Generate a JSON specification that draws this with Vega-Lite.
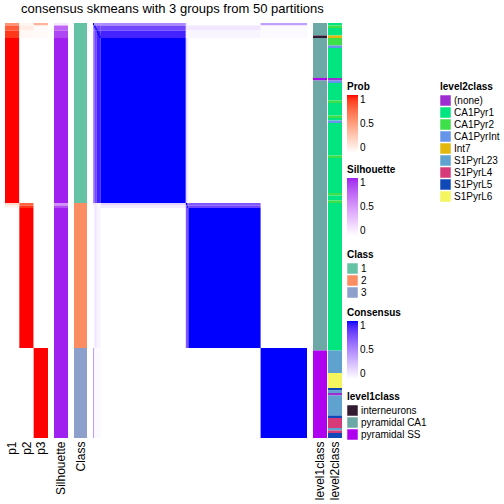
{
  "$schema": "https://vega.github.io/schema/vega-lite/v6.json",
  "padding": {"left": 5, "top": 3, "right": 0, "bottom": 0},
  "title": {"text": "consensus skmeans with 3 groups from 50 partitions", "fontSize": 13, "font": "Liberation Sans", "fontWeight": "normal", "anchor": "start", "dx": 16, "offset": 7, "color": "black"},
  "datasets": {
    "prob": [
      {"c": "p1", "y": 0, "y2": 1, "v": 0.55},
      {"c": "p1", "y": 1, "y2": 3, "v": 0.8},
      {"c": "p1", "y": 3, "y2": 6, "v": 0.92},
      {"c": "p1", "y": 6, "y2": 72, "v": 1},
      {"c": "p1", "y": 72, "y2": 73, "v": 0.2},
      {"c": "p1", "y": 73, "y2": 74, "v": 0.06},
      {"c": "p1", "y": 74, "y2": 166, "v": 0},
      {"c": "p2", "y": 0, "y2": 1, "v": 0.05},
      {"c": "p2", "y": 1, "y2": 3, "v": 0.1},
      {"c": "p2", "y": 3, "y2": 6, "v": 0.04},
      {"c": "p2", "y": 6, "y2": 72, "v": 0},
      {"c": "p2", "y": 72, "y2": 73, "v": 0.78},
      {"c": "p2", "y": 73, "y2": 74, "v": 0.93},
      {"c": "p2", "y": 74, "y2": 130, "v": 1},
      {"c": "p2", "y": 130, "y2": 166, "v": 0},
      {"c": "p3", "y": 0, "y2": 1, "v": 0.4},
      {"c": "p3", "y": 1, "y2": 3, "v": 0.03},
      {"c": "p3", "y": 3, "y2": 6, "v": 0.03},
      {"c": "p3", "y": 6, "y2": 130, "v": 0},
      {"c": "p3", "y": 130, "y2": 166, "v": 1}
    ],
    "sil": [
      {"c": "Silhouette", "y": 0, "y2": 1, "v": 0.12},
      {"c": "Silhouette", "y": 1, "y2": 3, "v": 0.75},
      {"c": "Silhouette", "y": 3, "y2": 6, "v": 0.88},
      {"c": "Silhouette", "y": 6, "y2": 72, "v": 1},
      {"c": "Silhouette", "y": 72, "y2": 73, "v": 0.55},
      {"c": "Silhouette", "y": 73, "y2": 74, "v": 0.85},
      {"c": "Silhouette", "y": 74, "y2": 166, "v": 1}
    ],
    "cls": [
      {"c": "Class", "y": 0, "y2": 72, "v": "1"},
      {"c": "Class", "y": 72, "y2": 130, "v": "2"},
      {"c": "Class", "y": 130, "y2": 166, "v": "3"}
    ],
    "mat": [
      {"x": 0, "x2": 1, "y": 0, "y2": 1, "v": 1},
      {"x": 1, "x2": 3, "y": 0, "y2": 1, "v": 0.5},
      {"x": 3, "x2": 6, "y": 0, "y2": 1, "v": 0.5},
      {"x": 6, "x2": 72, "y": 0, "y2": 1, "v": 0.5},
      {"x": 72, "x2": 73, "y": 0, "y2": 1, "v": 0.1},
      {"x": 73, "x2": 74, "y": 0, "y2": 1, "v": 0.05},
      {"x": 130, "x2": 166, "y": 0, "y2": 1, "v": 0.4},
      {"x": 0, "x2": 1, "y": 1, "y2": 3, "v": 0.5},
      {"x": 1, "x2": 3, "y": 1, "y2": 3, "v": 0.8},
      {"x": 1, "x2": 2, "y": 1, "y2": 2, "v": 1},
      {"x": 2, "x2": 3, "y": 2, "y2": 3, "v": 1},
      {"x": 3, "x2": 6, "y": 1, "y2": 3, "v": 0.8},
      {"x": 6, "x2": 72, "y": 1, "y2": 3, "v": 0.78},
      {"x": 72, "x2": 73, "y": 1, "y2": 3, "v": 0.12},
      {"x": 73, "x2": 74, "y": 1, "y2": 3, "v": 0.1},
      {"x": 74, "x2": 130, "y": 1, "y2": 3, "v": 0.1},
      {"x": 130, "x2": 166, "y": 1, "y2": 3, "v": 0.02},
      {"x": 0, "x2": 1, "y": 3, "y2": 6, "v": 0.5},
      {"x": 1, "x2": 3, "y": 3, "y2": 6, "v": 0.8},
      {"x": 3, "x2": 6, "y": 3, "y2": 6, "v": 0.92},
      {"x": 3, "x2": 4, "y": 3, "y2": 4, "v": 1},
      {"x": 4, "x2": 5, "y": 4, "y2": 5, "v": 1},
      {"x": 5, "x2": 6, "y": 5, "y2": 6, "v": 1},
      {"x": 6, "x2": 72, "y": 3, "y2": 6, "v": 0.92},
      {"x": 72, "x2": 73, "y": 3, "y2": 6, "v": 0.05},
      {"x": 73, "x2": 74, "y": 3, "y2": 6, "v": 0.04},
      {"x": 74, "x2": 130, "y": 3, "y2": 6, "v": 0.04},
      {"x": 130, "x2": 166, "y": 3, "y2": 6, "v": 0.02},
      {"x": 0, "x2": 1, "y": 6, "y2": 72, "v": 0.5},
      {"x": 1, "x2": 3, "y": 6, "y2": 72, "v": 0.78},
      {"x": 3, "x2": 6, "y": 6, "y2": 72, "v": 0.92},
      {"x": 6, "x2": 72, "y": 6, "y2": 72, "v": 1},
      {"x": 72, "x2": 73, "y": 6, "y2": 72, "v": 0.18},
      {"x": 73, "x2": 74, "y": 6, "y2": 72, "v": 0.08},
      {"x": 0, "x2": 1, "y": 72, "y2": 73, "v": 0.1},
      {"x": 1, "x2": 3, "y": 72, "y2": 73, "v": 0.12},
      {"x": 3, "x2": 6, "y": 72, "y2": 73, "v": 0.05},
      {"x": 6, "x2": 72, "y": 72, "y2": 73, "v": 0.18},
      {"x": 72, "x2": 73, "y": 72, "y2": 73, "v": 1},
      {"x": 73, "x2": 74, "y": 72, "y2": 73, "v": 0.75},
      {"x": 74, "x2": 130, "y": 72, "y2": 73, "v": 0.72},
      {"x": 0, "x2": 1, "y": 73, "y2": 74, "v": 0.05},
      {"x": 1, "x2": 3, "y": 73, "y2": 74, "v": 0.1},
      {"x": 3, "x2": 6, "y": 73, "y2": 74, "v": 0.04},
      {"x": 6, "x2": 72, "y": 73, "y2": 74, "v": 0.08},
      {"x": 72, "x2": 73, "y": 73, "y2": 74, "v": 0.75},
      {"x": 73, "x2": 74, "y": 73, "y2": 74, "v": 1},
      {"x": 74, "x2": 130, "y": 73, "y2": 74, "v": 0.8},
      {"x": 1, "x2": 3, "y": 74, "y2": 130, "v": 0.1},
      {"x": 3, "x2": 6, "y": 74, "y2": 130, "v": 0.04},
      {"x": 72, "x2": 73, "y": 74, "y2": 130, "v": 0.72},
      {"x": 73, "x2": 74, "y": 74, "y2": 130, "v": 0.8},
      {"x": 74, "x2": 130, "y": 74, "y2": 130, "v": 1},
      {"x": 0, "x2": 1, "y": 130, "y2": 166, "v": 0.4},
      {"x": 1, "x2": 3, "y": 130, "y2": 166, "v": 0.02},
      {"x": 3, "x2": 6, "y": 130, "y2": 166, "v": 0.02},
      {"x": 130, "x2": 166, "y": 130, "y2": 166, "v": 1}
    ],
    "l1": [
      {"c": "level1class", "y": 0, "y2": 5, "v": "pyramidal CA1"},
      {"c": "level1class", "y": 5, "y2": 6, "v": "interneurons"},
      {"c": "level1class", "y": 6, "y2": 22, "v": "pyramidal CA1"},
      {"c": "level1class", "y": 22, "y2": 23, "v": "pyramidal SS"},
      {"c": "level1class", "y": 23, "y2": 131, "v": "pyramidal CA1"},
      {"c": "level1class", "y": 131, "y2": 166, "v": "pyramidal SS"}
    ],
    "l2": [
      {"c": "level2class", "y": 0, "y2": 1, "v": "CA1Pyr1"},
      {"c": "level2class", "y": 1, "y2": 2, "v": "CA1Pyr2"},
      {"c": "level2class", "y": 2, "y2": 5, "v": "CA1Pyr1"},
      {"c": "level2class", "y": 5, "y2": 6, "v": "Int7"},
      {"c": "level2class", "y": 6, "y2": 9, "v": "CA1Pyr2"},
      {"c": "level2class", "y": 9, "y2": 10, "v": "CA1PyrInt"},
      {"c": "level2class", "y": 10, "y2": 22, "v": "CA1Pyr1"},
      {"c": "level2class", "y": 22, "y2": 23, "v": "(none)"},
      {"c": "level2class", "y": 23, "y2": 24, "v": "CA1PyrInt"},
      {"c": "level2class", "y": 24, "y2": 31, "v": "CA1Pyr1"},
      {"c": "level2class", "y": 31, "y2": 32, "v": "CA1Pyr2"},
      {"c": "level2class", "y": 32, "y2": 37, "v": "CA1Pyr1"},
      {"c": "level2class", "y": 37, "y2": 38, "v": "CA1Pyr2"},
      {"c": "level2class", "y": 38, "y2": 39, "v": "CA1Pyr1"},
      {"c": "level2class", "y": 39, "y2": 40, "v": "CA1PyrInt"},
      {"c": "level2class", "y": 40, "y2": 53, "v": "CA1Pyr1"},
      {"c": "level2class", "y": 53, "y2": 54, "v": "CA1Pyr2"},
      {"c": "level2class", "y": 54, "y2": 68, "v": "CA1Pyr1"},
      {"c": "level2class", "y": 68, "y2": 69, "v": "CA1Pyr2"},
      {"c": "level2class", "y": 69, "y2": 71, "v": "CA1Pyr1"},
      {"c": "level2class", "y": 71, "y2": 72, "v": "CA1Pyr2"},
      {"c": "level2class", "y": 72, "y2": 131, "v": "CA1Pyr1"},
      {"c": "level2class", "y": 131, "y2": 140, "v": "S1PyrL23"},
      {"c": "level2class", "y": 140, "y2": 146, "v": "S1PyrL6"},
      {"c": "level2class", "y": 146, "y2": 147, "v": "S1PyrL5"},
      {"c": "level2class", "y": 147, "y2": 148, "v": "S1PyrL23"},
      {"c": "level2class", "y": 148, "y2": 149, "v": "(none)"},
      {"c": "level2class", "y": 149, "y2": 157, "v": "S1PyrL23"},
      {"c": "level2class", "y": 157, "y2": 158, "v": "S1PyrL5"},
      {"c": "level2class", "y": 158, "y2": 162, "v": "S1PyrL4"},
      {"c": "level2class", "y": 162, "y2": 163, "v": "S1PyrL23"},
      {"c": "level2class", "y": 163, "y2": 164, "v": "S1PyrL4"},
      {"c": "level2class", "y": 164, "y2": 166, "v": "S1PyrL5"}
    ]
  },
  "spacing": 6,
  "bounds": "flush",
  "resolve": {"scale": {"fill": "independent", "x": "independent", "y": "independent"}, "legend": {"fill": "independent"}},
  "hconcat": [
    {
      "width": 43, "height": 415,
      "data": {"name": "prob"},
      "mark": {"type": "rect"},
      "encoding": {
        "x": {"field": "c", "type": "nominal", "sort": ["p1", "p2", "p3"], "scale": {"paddingInner": 0, "paddingOuter": 0}, "axis": {"title": null}},
        "y": {"field": "y", "type": "quantitative", "scale": {"domain": [0, 166], "reverse": true, "nice": false, "zero": false}, "axis": null},
        "y2": {"field": "y2"},
        "fill": {"field": "v", "type": "quantitative", "scale": {"domain": [0, 1], "range": ["#FFFFFF", "#FF0000"], "interpolate": "lab"}, "legend": {"title": "Prob", "legendX": 342, "legendY": 59, "values": [0, 0.5, 1], "format": "~g"}}
      }
    },
    {
      "width": 14, "height": 415,
      "data": {"name": "sil"},
      "mark": {"type": "rect"},
      "encoding": {
        "x": {"field": "c", "type": "nominal", "scale": {"paddingInner": 0, "paddingOuter": 0}, "axis": {"title": null}},
        "y": {"field": "y", "type": "quantitative", "scale": {"domain": [0, 166], "reverse": true, "nice": false, "zero": false}, "axis": null},
        "y2": {"field": "y2"},
        "fill": {"field": "v", "type": "quantitative", "scale": {"domain": [0, 1], "range": ["#FFFFFF", "#A020F0"], "interpolate": "lab"}, "legend": {"title": "Silhouette", "legendX": 293, "legendY": 142, "values": [0, 0.5, 1], "format": "~g"}}
      }
    },
    {
      "width": 13, "height": 415,
      "data": {"name": "cls"},
      "mark": {"type": "rect"},
      "encoding": {
        "x": {"field": "c", "type": "nominal", "scale": {"paddingInner": 0, "paddingOuter": 0}, "axis": {"title": null}},
        "y": {"field": "y", "type": "quantitative", "scale": {"domain": [0, 166], "reverse": true, "nice": false, "zero": false}, "axis": null},
        "y2": {"field": "y2"},
        "fill": {"field": "v", "type": "nominal", "scale": {"domain": ["1", "2", "3"], "range": ["#66C2A5", "#FC8D62", "#8DA0CB"]}, "legend": {"title": "Class", "legendX": 273, "legendY": 227}}
      }
    },
    {
      "width": 214, "height": 415,
      "data": {"name": "mat"},
      "mark": {"type": "rect"},
      "encoding": {
        "x": {"field": "x", "type": "quantitative", "scale": {"domain": [0, 166], "nice": false, "zero": false}, "axis": null},
        "x2": {"field": "x2"},
        "y": {"field": "y", "type": "quantitative", "scale": {"domain": [0, 166], "reverse": true, "nice": false, "zero": false}, "axis": null},
        "y2": {"field": "y2"},
        "fill": {"field": "v", "type": "quantitative", "scale": {"domain": [0, 1], "range": ["#FFFFFF", "#0000FF"], "interpolate": "lab"}, "legend": {"title": "Consensus", "legendX": 254, "legendY": 285, "values": [0, 0.5, 1], "format": "~g"}}
      }
    },
    {
      "spacing": 1,
      "bounds": "flush",
      "resolve": {"scale": {"fill": "independent", "x": "independent", "y": "independent"}, "legend": {"fill": "independent"}},
      "hconcat": [
        {
          "width": 14, "height": 415,
          "data": {"name": "l1"},
          "mark": {"type": "rect"},
          "encoding": {
            "x": {"field": "c", "type": "nominal", "scale": {"paddingInner": 0, "paddingOuter": 0}, "axis": {"title": null}},
            "y": {"field": "y", "type": "quantitative", "scale": {"domain": [0, 166], "reverse": true, "nice": false, "zero": false}, "axis": null},
            "y2": {"field": "y2"},
            "fill": {"field": "v", "type": "nominal", "scale": {"domain": ["interneurons", "pyramidal CA1", "pyramidal SS"], "range": ["#321A33", "#6BA8A6", "#B000F0"]}, "legend": {"title": "level1class", "legendX": 34, "legendY": 369}}
          }
        },
        {
          "width": 14, "height": 415,
          "data": {"name": "l2"},
          "mark": {"type": "rect"},
          "encoding": {
            "x": {"field": "c", "type": "nominal", "scale": {"paddingInner": 0, "paddingOuter": 0}, "axis": {"title": null}},
            "y": {"field": "y", "type": "quantitative", "scale": {"domain": [0, 166], "reverse": true, "nice": false, "zero": false}, "axis": null},
            "y2": {"field": "y2"},
            "fill": {"field": "v", "type": "nominal", "scale": {"domain": ["(none)", "CA1Pyr1", "CA1Pyr2", "CA1PyrInt", "Int7", "S1PyrL23", "S1PyrL4", "S1PyrL5", "S1PyrL6"], "range": ["#9D2ED2", "#00E57F", "#3EE04A", "#6595E8", "#E3B80E", "#5FA2D0", "#D63A78", "#1148B8", "#F5F55E"]}, "legend": {"title": "level2class", "legendX": 112, "legendY": 59}}
          }
        }
      ]
    }
  ],
  "config": {
    "view": {"stroke": null},
    "font": "Liberation Sans",
    "axis": {"labelAngle": -90, "labelFontSize": 12, "labelFont": "Liberation Sans", "labelColor": "black", "labelPadding": 3, "ticks": false, "domain": false, "grid": false},
    "legend": {"orient": "none", "direction": "vertical", "padding": 0, "titleFontSize": 10, "titleFont": "Liberation Sans", "titleFontWeight": "bold", "titleColor": "black", "titlePadding": 3, "labelFontSize": 10, "labelFont": "Liberation Sans", "labelColor": "black", "labelOffset": 3, "gradientThickness": 11, "gradientLength": 58, "gradientStrokeWidth": 0, "symbolType": "square", "symbolSize": 110, "symbolStrokeWidth": 0, "symbolOpacity": 1, "rowPadding": 1, "labelBaseline": "middle"}
  }
}
